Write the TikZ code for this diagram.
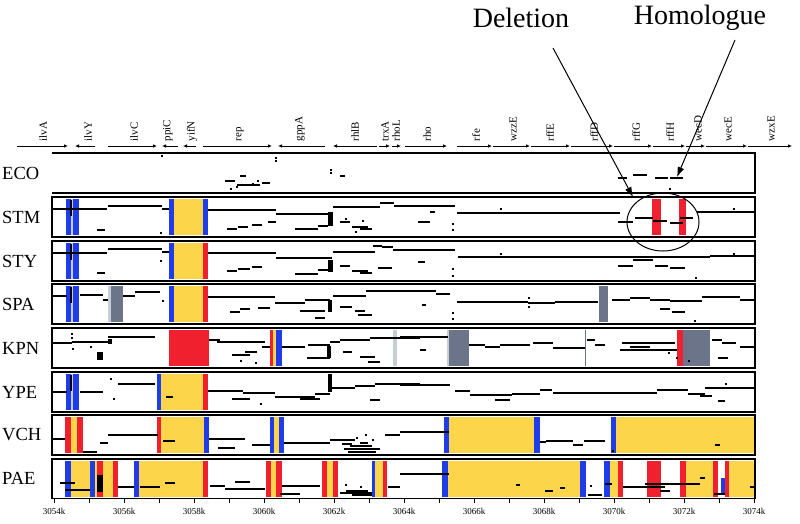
\documentclass[tikz,border=0pt]{standalone}
\usepackage{fontspec}
\setmainfont{Liberation Serif}
\usetikzlibrary{arrows.meta}
\definecolor{bblue}{HTML}{1E3CE8}
\definecolor{byel}{HTML}{FCD54B}
\definecolor{bred}{HTML}{F0202E}
\definecolor{bgray}{HTML}{6B7488}
\definecolor{blgray}{HTML}{C9CDD6}
\tikzset{
 frame/.style={line width=1.4pt,draw=black},
 dk/.style={line width=1.2pt},
 gene/.style={line width=0.9pt,-{Latex[length=4pt,width=3.6pt]}},
 genelab/.style={rotate=90,anchor=west,font=\fontsize{11}{12}\selectfont,inner sep=0.5pt},
 plab/.style={anchor=west,font=\fontsize{18.5}{20}\selectfont,inner sep=0pt},
 callout/.style={line width=1pt,-{Latex[length=10pt,width=7pt]}},
 big/.style={font=\fontsize{28}{30}\selectfont,inner sep=0pt},
 axlab/.style={font=\fontsize{9}{10}\selectfont,inner sep=0pt}
}
\newcommand\hseg[3]{\draw[dk] (#1,#3) -- (#2,#3);}
\newcommand\pdot[2]{\fill (#1,#2) rectangle +(1.6,1.6);}
\newcommand\blob[4]{\fill (#1,#2) rectangle (#3,#4);}
\newcommand\cbar[4]{\fill[#1] (#2,#4+2) rectangle (#3,#4+38);}
\begin{document}
\begin{tikzpicture}[x=1pt,y=-1pt]
\useasboundingbox (0,0) rectangle (800,523);

% ---------------- gene track ----------------
\foreach \a/\b in {17/68,95/75,108/157,178/162,196/183,203/272,325/278,377/333,379/390,392/401,405/447,457/492,493/530,531/570,571/613,614/652,653/685,686/705,706/747,748/792}
  \draw[gene] (\a,146) -- (\b,146);
\foreach \x/\t [count=\i] in {43/ilvA,88/ilvY,134/ilvC,168/ppiC,192/yifN,240/rep,300/gppA,355/rhlB,385/trxA,396/rhoL,427/rho,476/rfe,513/wzzE,550/rffE,594/rffD,636/rffG,670/rffH,698/wecD,728/wecE,771/wzxE}
  \node[genelab] (g\i) at (\x,142) {\t};

% ---------------- coloured blocks ----------------
% STM
\cbar{bblue}{66}{71}{197}\cbar{blgray}{71}{73}{197}\cbar{bblue}{73}{79}{197}
\cbar{bblue}{169}{174}{197}\cbar{byel}{174}{203}{197}\cbar{bblue}{203}{208}{197}
\cbar{bred}{652}{661}{197}\cbar{bred}{679}{686}{197}
% STY
\cbar{bblue}{66}{71}{241}\cbar{blgray}{71}{73}{241}\cbar{bblue}{73}{79}{241}
\cbar{bblue}{169}{174}{241}\cbar{byel}{174}{203}{241}\cbar{bred}{203}{208}{241}
% SPA
\cbar{bblue}{66}{71}{284}\cbar{blgray}{71}{73}{284}\cbar{bblue}{73}{79}{284}
\cbar{blgray}{108}{111}{284}\cbar{bgray}{111}{123}{284}
\cbar{bblue}{169}{174}{284}\cbar{byel}{174}{203}{284}\cbar{bred}{203}{208}{284}
\cbar{bgray}{599}{608}{284}
% KPN
\cbar{bred}{169}{209}{328}
\cbar{bred}{270}{273}{328}\cbar{byel}{273}{276}{328}\cbar{bblue}{276}{282}{328}
\cbar{blgray}{393}{397}{328}
\cbar{blgray}{447}{449}{328}\cbar{bgray}{449}{469}{328}
\cbar{bgray}{584.5}{586}{328}
\cbar{bred}{677}{683}{328}\cbar{bgray}{683}{710}{328}
% YPE
\cbar{bblue}{66}{71}{372}\cbar{blgray}{71}{73}{372}\cbar{bblue}{73}{79}{372}
\cbar{bblue}{157}{161}{372}\cbar{byel}{161}{203}{372}\cbar{bred}{203}{208}{372}
% VCH
\cbar{bred}{65}{71}{415}\cbar{byel}{71}{77}{415}\cbar{bred}{77}{83}{415}
\cbar{bred}{157}{161}{415}\cbar{byel}{161}{204}{415}\cbar{bblue}{204}{209}{415}
\cbar{bblue}{270}{274}{415}\cbar{byel}{274}{279}{415}\cbar{bblue}{279}{284}{415}
\cbar{bblue}{444}{449}{415}\cbar{byel}{449}{534}{415}\cbar{bblue}{534}{540}{415}
\cbar{bblue}{611}{616}{415}\cbar{byel}{616}{754}{415}
% PAE
\cbar{bblue}{65}{71}{459}\cbar{byel}{71}{90}{459}\cbar{bblue}{90}{95}{459}
\cbar{byel}{95}{97}{459}\cbar{bred}{97}{103}{459}\cbar{byel}{103}{113}{459}\cbar{bred}{113}{118}{459}
\cbar{bblue}{134}{139}{459}\cbar{byel}{139}{203}{459}\cbar{bred}{203}{208}{459}
\cbar{bred}{266}{271}{459}\cbar{byel}{271}{276}{459}\cbar{bred}{276}{282}{459}
\cbar{bred}{322}{327}{459}\cbar{byel}{327}{333}{459}\cbar{bred}{333}{338}{459}
\cbar{bblue}{372}{375}{459}\cbar{byel}{375}{383}{459}\cbar{bred}{383}{387}{459}
\cbar{bblue}{442}{448}{459}\cbar{byel}{448}{580}{459}\cbar{bblue}{580}{586}{459}
\cbar{bblue}{604}{610}{459}\cbar{byel}{610}{618}{459}\cbar{bred}{618}{623}{459}
\cbar{bred}{647}{661}{459}
\cbar{bred}{680}{686}{459}\cbar{byel}{686}{713}{459}\cbar{bred}{713}{718}{459}
\fill[bblue] (721,478) rectangle (725,495);
\cbar{bred}{725}{729}{459}\cbar{byel}{729}{754}{459}

% ---------------- dot plot marks ----------------
% ECO
\pdot{161}{155}\pdot{275}{157}\pdot{275}{160}
\hseg{225}{235}{181}\hseg{237}{260}{185}\hseg{262}{270}{183}\hseg{240}{246}{176}
\pdot{257}{180}\pdot{252}{183}\pdot{230}{188}\pdot{236}{186}
\pdot{330}{169}\pdot{330}{172}\hseg{340}{345}{176}
\hseg{618}{627}{178}\hseg{633}{647}{175}\hseg{655}{668}{178}\hseg{670}{683}{178}\pdot{669}{188}
% STM
\hseg{52}{107}{209}\hseg{108}{162}{206}\hseg{162}{169}{209}\hseg{97}{105}{230}\pdot{160}{232}
\blob{70}{200}{72}{216}
\hseg{208}{276}{210}\hseg{276}{332}{214}\hseg{333}{380}{207}\hseg{380}{394}{203}\hseg{394}{455}{206}
\blob{328}{212}{333}{226}
\hseg{227}{237}{229}\hseg{238}{248}{227}\hseg{252}{262}{225}\hseg{268}{276}{222}
\hseg{295}{318}{229}\hseg{318}{328}{226}\hseg{340}{350}{222}\hseg{352}{368}{227}\hseg{360}{372}{229}
\pdot{345}{218}\pdot{362}{220}\pdot{355}{231}
\hseg{430}{435}{212}\hseg{418}{430}{222}\pdot{452}{223}\pdot{452}{229}
\hseg{457}{620}{213}\pdot{500}{208}
\hseg{618}{633}{222}\hseg{635}{653}{218}\hseg{653}{667}{221}\hseg{670}{683}{223}\hseg{680}{693}{218}
\hseg{697}{755}{212}\pdot{733}{208}
% STY
\hseg{52}{107}{253}\hseg{108}{162}{249}\hseg{162}{169}{252}\hseg{97}{105}{273}\pdot{160}{260}
\blob{70}{244}{72}{260}
\hseg{208}{276}{253}\hseg{276}{332}{258}\hseg{333}{375}{252}\hseg{373}{382}{246}\hseg{382}{393}{247}\hseg{393}{455}{250}
\blob{328}{260}{333}{272}
\hseg{227}{237}{271}\hseg{238}{250}{269}\hseg{252}{262}{267}\hseg{295}{318}{274}\hseg{318}{328}{270}
\hseg{340}{350}{266}\hseg{352}{368}{271}\hseg{360}{372}{273}\hseg{378}{392}{268}
\pdot{452}{268}\pdot{452}{275}\hseg{418}{425}{262}
\hseg{458}{710}{257}\hseg{710}{755}{256}\pdot{500}{253}\pdot{733}{253}
\hseg{633}{653}{260}\hseg{618}{633}{266}\hseg{655}{668}{266}\hseg{670}{685}{268}\pdot{695}{277}
% SPA
\hseg{52}{67}{296}\hseg{80}{103}{295}\blob{70}{287}{72}{303}\hseg{103}{108}{300}
\hseg{123}{135}{296}\hseg{135}{160}{292}\pdot{162}{300}
\hseg{208}{275}{297}\hseg{275}{305}{303}\hseg{305}{330}{300}\hseg{333}{366}{296}\hseg{366}{420}{291}
\blob{328}{300}{332}{312}
\hseg{230}{240}{312}\hseg{240}{250}{309}\hseg{258}{270}{308}\hseg{300}{325}{311}\hseg{315}{325}{318}
\hseg{340}{352}{307}\hseg{355}{365}{311}\hseg{358}{372}{315}
\hseg{400}{436}{291}\hseg{436}{450}{294}\hseg{422}{426}{305}\pdot{452}{312}\pdot{452}{318}
\hseg{457}{528}{302}\hseg{528}{555}{303}\hseg{555}{598}{302}\pdot{528}{297}\pdot{528}{306}
\hseg{612}{630}{300}\hseg{630}{650}{298}\hseg{650}{670}{300}\hseg{670}{702}{301}\hseg{702}{740}{297}\hseg{740}{755}{300}
\hseg{660}{670}{309}\hseg{672}{685}{312}\pdot{694}{320}
% KPN
\hseg{52}{72}{343}\hseg{72}{110}{342}\blob{108}{339}{112}{344}\hseg{108}{155}{337}
\pdot{71}{333}\pdot{71}{337}\pdot{72}{348}\blob{97}{352}{103}{360}\pdot{90}{346}
\hseg{209}{220}{340}\hseg{217}{265}{342}\hseg{262}{270}{347}
\hseg{282}{305}{347}\hseg{308}{330}{345}\hseg{330}{340}{342}\hseg{340}{370}{340}\hseg{370}{420}{338}
\hseg{232}{250}{355}\hseg{245}{257}{352}\hseg{307}{330}{358}\hseg{343}{352}{352}\hseg{360}{375}{357}\hseg{368}{380}{362}
\blob{327}{346}{331}{358}\pdot{240}{360}\pdot{255}{362}
\hseg{400}{448}{337}\hseg{420}{426}{350}
\hseg{469}{485}{345}\hseg{485}{500}{347}\hseg{500}{530}{345}\hseg{533}{553}{343}\hseg{553}{585}{348}
\hseg{587}{595}{340}\hseg{595}{605}{345}\hseg{622}{675}{343}\hseg{620}{677}{350}\hseg{630}{650}{347}
\pdot{668}{352}\pdot{676}{357}\pdot{688}{360}
\hseg{712}{722}{340}\hseg{722}{736}{343}\hseg{740}{755}{347}\hseg{718}{728}{358}
% YPE
\hseg{52}{67}{392}\hseg{80}{103}{392}\blob{70}{375}{72}{391}
\hseg{118}{155}{384}\hseg{166}{173}{397}\pdot{110}{378}\pdot{113}{398}
\hseg{208}{243}{391}\hseg{243}{275}{393}\hseg{275}{315}{397}\hseg{315}{330}{394}\hseg{330}{355}{388}\hseg{355}{375}{386}\hseg{375}{420}{384}
\blob{328}{374}{332}{392}
\hseg{232}{250}{399}\hseg{300}{320}{399}\hseg{370}{380}{400}\pdot{260}{403}
\hseg{400}{450}{385}\hseg{455}{470}{391}\hseg{470}{512}{395}\hseg{495}{510}{400}\hseg{512}{540}{394}\hseg{540}{552}{390}
\hseg{553}{657}{393}\hseg{657}{688}{390}\hseg{688}{705}{394}\hseg{705}{755}{388}\pdot{725}{383}\hseg{700}{712}{396}\hseg{718}{725}{401}
% VCH
\hseg{52}{65}{439}\hseg{83}{97}{452}\hseg{100}{108}{443}\hseg{108}{158}{435}\hseg{163}{175}{441}
\hseg{209}{245}{439}\hseg{218}{235}{448}\hseg{252}{270}{445}\hseg{284}{330}{443}\hseg{330}{355}{440}
\hseg{342}{352}{444}\hseg{350}{372}{446}\hseg{344}{380}{449}\hseg{348}{376}{452}\hseg{360}{368}{443}
\pdot{356}{437}\pdot{372}{439}\pdot{365}{434}
\hseg{385}{400}{435}\hseg{400}{449}{432}
\hseg{540}{546}{442}\hseg{546}{573}{441}\hseg{573}{583}{445}\hseg{584}{605}{441}\pdot{612}{450}\hseg{715}{720}{445}
% PAE
\hseg{60}{75}{483}\hseg{65}{90}{490}\blob{97}{475}{103}{492}\hseg{118}{134}{487}\hseg{140}{160}{487}\hseg{165}{175}{483}
\hseg{210}{225}{486}\hseg{225}{265}{489}\hseg{235}{250}{482}\hseg{282}{320}{486}\hseg{280}{300}{494}
\hseg{340}{372}{493}\hseg{346}{368}{491}\hseg{352}{372}{495}\pdot{345}{484}\pdot{360}{486}
\hseg{388}{400}{487}\hseg{400}{449}{474}
\hseg{516}{520}{485}\hseg{545}{553}{491}\hseg{560}{565}{488}
\hseg{588}{602}{495}\pdot{590}{485}\hseg{605}{612}{484}
\hseg{623}{665}{487}\hseg{645}{700}{484}\hseg{660}{670}{491}\hseg{700}{705}{478}\hseg{714}{725}{494}\hseg{750}{755}{487}

% ---------------- panel frames ----------------
\draw[frame] (52,153) -- (755,153) -- (755,193) -- (52,193);
\foreach \t in {197,241,284,328,372,415}
  \draw[frame] (52,\t) rectangle (755,\t+40);
\draw[frame] (52,459) rectangle (755,498.5);

\foreach \n/\y in {ECO/173,STM/217,STY/261,SPA/304,KPN/348,YPE/392,VCH/435,PAE/478}
  \node[plab] (p\n) at (2,\y) {\n};

% ---------------- axis ----------------
\foreach \k in {0,...,20}
  \draw[line width=1pt] (54+35*\k,498) -- (54+35*\k,503);
\foreach \k in {0,...,10}{
  \pgfmathtruncatemacro\lab{3054+2*\k}
  \node[axlab] (ax\k) at (54+70*\k,511) {\lab k};
}

% ---------------- annotations ----------------
\draw[line width=1pt] (663,222) ellipse [x radius=36pt, y radius=29pt];
\node[big] (del) at (521,18) {Deletion};
\node[big] (hom) at (700,18) {Homologue};
\coordinate (delA) at (553,48);
\coordinate (delB) at (633,197);
\coordinate (homA) at (735,40);
\coordinate (homB) at (677,177);
\draw[callout] (delA) -- (delB);
\draw[callout] (homA) -- (homB);
\end{tikzpicture}
\end{document}
